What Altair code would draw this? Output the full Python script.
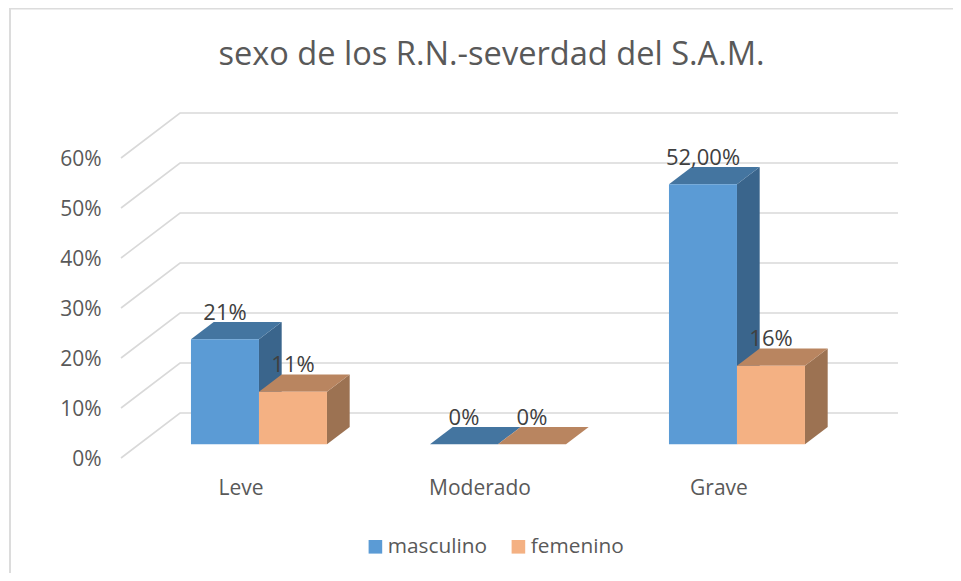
import altair as alt
import pandas as pd

categories = ["Leve", "Moderado", "Grave"]
series = ["masculino", "femenino"]
masculino = [0.21, 0.0, 0.52]
femenino = [0.105, 0.0, 0.157]
value_labels = {"masculino": ["21%", "0%", "52,00%"], "femenino": ["11%", "0%", "16%"]}
y_ticks = [0.0, 0.1, 0.2, 0.3, 0.4, 0.5, 0.6]
front_colors = ["#5b9bd5", "#f4b183"]
top_colors = {"masculino": "#4475a0", "femenino": "#b98560"}
side_colors = {"masculino": "#3a658c", "femenino": "#9c7252"}

FONT = "Open Sans"
TEXT = "#595959"
# oblique projection of the floor depth onto the value/category scales
WALL_DX = 59 / 239
WALL_DY = 0.09
XMAX = 777 / 239
YMAX = 0.69
BAR_W = 68 / 239
D0, D1 = 0.305, 0.69

values = {"masculino": masculino, "femenino": femenino}
front, tops, sides, labels = [], [], [], []
for s_i, s in enumerate(series):
    for c_i, c in enumerate(categories):
        v = values[s][c_i]
        xl = c_i + 0.5 - BAR_W + s_i * BAR_W + D0 * WALL_DX + 0.002
        xr = xl + BAR_W
        base0 = D0 * WALL_DY
        base1 = D1 * WALL_DY
        ddx = (D1 - D0) * WALL_DX
        front.append({"serie": s, "x": xl, "x2": xr, "y": base0, "y2": base0 + v})
        tops.append({"serie": s, "id": c, "y": base0 + v, "x": xl, "x2": xr})
        tops.append({"serie": s, "id": c, "y": base1 + v, "x": xl + ddx, "x2": xr + ddx})
        sides.append({"serie": s, "id": c, "x": xr, "y": base0, "y2": base0 + v})
        sides.append({"serie": s, "id": c, "x": xr + ddx, "y": base1, "y2": base1 + v})
        labels.append({"x": (xl + xr) / 2, "y": base1 + v, "t": value_labels[s][c_i]})

grid = []
for t in y_ticks:
    grid.append({"tick": t, "x": 0.0, "y": t})
    grid.append({"tick": t, "x": WALL_DX, "y": t + WALL_DY})
    grid.append({"tick": t, "x": XMAX, "y": t + WALL_DY})

xs = alt.Scale(domain=[0, XMAX], nice=False, zero=False)
ys = alt.Scale(domain=[0, YMAX], nice=False, zero=False)
X = alt.X("x:Q", scale=xs, title=None, axis=alt.Axis(
    values=[0.5, 1.5, 2.5], grid=False, domain=False, ticks=False, labelPadding=19,
    labelExpr="['Leve','Moderado','Grave'][floor(datum.value)]",
    labelFont=FONT, labelFontSize=21, labelColor=TEXT, labelOverlap=False, labelFlush=False))
Y = alt.Y("y:Q", scale=ys, title=None, axis=alt.Axis(
    values=y_ticks, format=".0%", grid=False, domain=False, ticks=False, labelPadding=20,
    labelFont=FONT, labelFontSize=21, labelColor=TEXT, labelOverlap=False, labelOffset=1))

grid_layer = alt.Chart(pd.DataFrame(grid)).mark_line(color="#d9d9d9", strokeWidth=1.6).encode(
    x=X, y=Y, detail="tick:N", order=alt.Order("x:Q"))

def side_layer(s):
    d = pd.DataFrame([r for r in sides if r["serie"] == s])
    return alt.Chart(d).mark_area(color=side_colors[s], orient="vertical").encode(
        x=X, y=Y, y2="y2:Q", detail="id:N")

def top_layer(s):
    d = pd.DataFrame([r for r in tops if r["serie"] == s])
    return alt.Chart(d).mark_area(color=top_colors[s], orient="horizontal").encode(
        y=Y, x=X, x2="x2:Q", detail="id:N")

front_layer = alt.Chart(pd.DataFrame(front)).mark_rect().encode(
    x=X, x2="x2:Q", y=Y, y2="y2:Q",
    color=alt.Color("serie:N", scale=alt.Scale(domain=series, range=front_colors),
                    legend=alt.Legend(orient="none", legendX=244, legendY=423, title=None,
                                      direction="horizontal", columns=2, symbolType="square",
                                      symbolSize=185, symbolStrokeWidth=0, columnPadding=20,
                                      labelFont=FONT, labelFontSize=20.8, labelColor=TEXT,
                                      labelOffset=2)))

label_layer = alt.Chart(pd.DataFrame(labels)).mark_text(
    font=FONT, fontSize=22, color="#404040", baseline="alphabetic", align="center", dy=-2
).encode(x=X, y=Y, text="t:N")

border_left = alt.Chart(pd.DataFrame({"a": [0]})).mark_rule(color="#dcdcdc", strokeWidth=2).encode(
    x=alt.value(-111), y=alt.value(-105), y2=alt.value(460))
border_top = alt.Chart(pd.DataFrame({"a": [0]})).mark_rule(color="#dcdcdc", strokeWidth=2).encode(
    y=alt.value(-104.5), x=alt.value(-112), x2=alt.value(832))

chart = alt.layer(
    border_left, border_top, grid_layer,
    side_layer("masculino"), top_layer("masculino"),
    side_layer("femenino"), top_layer("femenino"),
    front_layer, label_layer,
).resolve_scale(x="shared", y="shared").properties(
    width=777, height=345,
    padding={"left": 113, "top": 105, "right": 55, "bottom": 115},
    autosize=alt.AutoSizeParams(type="none"),
    background="white",
    title=alt.TitleParams("sexo de los R.N.-severdad del S.A.M.", font=FONT, fontSize=32.6,
                          fontWeight="normal", color=TEXT, anchor="middle", frame="group",
                          dx=-18, offset=-65),
).configure_view(stroke=None)

chart.save("out.html", embed_options={"renderer": "svg", "actions": False})
